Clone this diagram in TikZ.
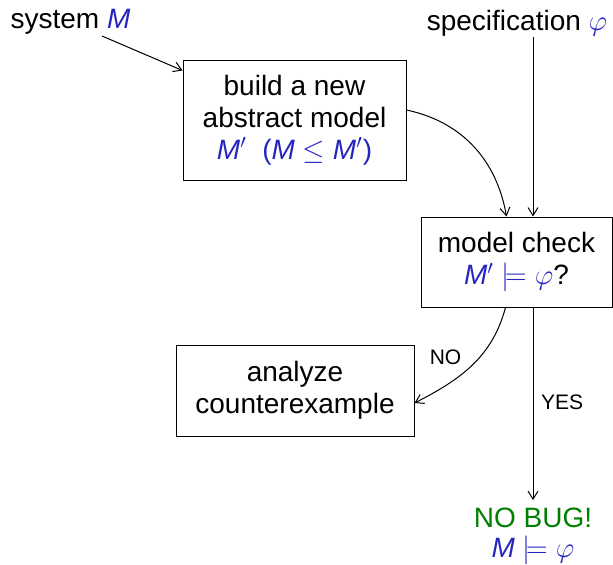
\documentclass[tikz,border=0pt]{standalone}
\usepackage{fontspec}
\setmainfont{Liberation Sans}
\usetikzlibrary{arrows.meta,calc}
\definecolor{mblue}{RGB}{38,38,191}
\definecolor{okgreen}{RGB}{0,128,0}
\newcommand{\mM}{\textit{M}}
\begin{document}
\begin{tikzpicture}[x=0.5pt,y=0.5pt,
  every node/.style={font=\fontsize{14}{16}\selectfont},
  box/.style={draw, line width=0.5pt, align=center, inner sep=0pt},
  conn/.style={line width=0.5pt, -{Straight Barb[length=4pt,width=5pt]}},
  free/.style={inner sep=0pt},
  lbl/.style={inner sep=0pt, font=\fontsize{10.5}{12}\selectfont}]
\useasboundingbox (0,0) rectangle (613,564);
% boxes
\node[box, minimum width=111.5pt, minimum height=60pt] (build) at (294.5,444)
  {build a new\\abstract model\\ \color{mblue}\mM$'$\ \ (\mM\ $\le$ \mM$'$)};
\node[box, minimum width=95.5pt, minimum height=45pt] (check) at (516.5,302)
  {model check\\ {\color{mblue}\mM$'$ $\models\varphi$}?};
\node[box, minimum width=119pt, minimum height=45.5pt] (analyze) at (295,173.5)
  {analyze\\counterexample};
% free texts
\node[free, anchor=base] (sys) at (70.5,536) {system {\color{mblue}\mM}};
\node[free, anchor=base] (spec) at (517,534) {specification {\color{mblue}$\varphi$}};
\node[free, anchor=base, text=okgreen] (nobug) at (533,37) {NO BUG!};
\node[free, anchor=base, text=mblue] (nobugm) at (533,7) {\mM\ $\models\varphi$};
\node[lbl] (nolbl) at (445.5,207) {NO};
\node[lbl] (yeslbl) at (562,162) {YES};
% helper coordinates
\coordinate (v) at (533,0);
\coordinate (sysstart) at (102,528);
% connectors
\draw[conn] (sysstart) -- ($(build.north west)+(0,-11)$);
\draw[conn] ($(spec.base -| v)+(0,-7)$) -- (check.north -| v);
\draw[conn] ($(build.east)+(0,10)$) to[out=-12,in=100] ($(check.north west)+(86,0)$);
\draw[conn] ($(check.south west)+(85,0)$) to[out=255,in=27] ($(analyze.east)+(0,-12.5)$);
\draw[conn] (check.south -| v) -- ($(nobug.north -| v)+(0,7)$);
\end{tikzpicture}
\end{document}
